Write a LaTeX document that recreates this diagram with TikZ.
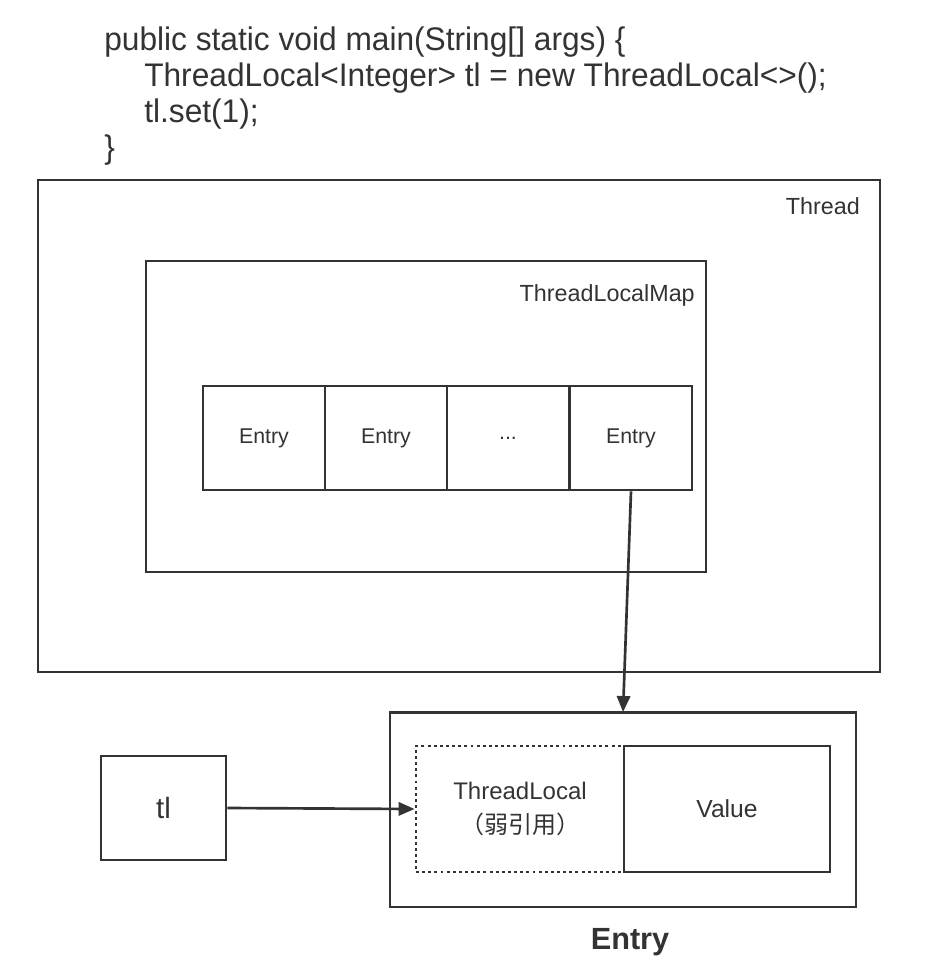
\documentclass[tikz,border=0pt]{standalone}
\usepackage{fontspec}
\setmainfont{Liberation Sans}
\newfontfamily\codefont[FakeStretch=0.97]{Liberation Sans}
\newfontfamily\cjk{Noto Sans CJK SC}
\usetikzlibrary{arrows.meta}
\definecolor{ink}{HTML}{333333}
\begin{document}
\begin{tikzpicture}[x=0.75pt,y=-0.75pt,
  box/.style={draw=ink,line width=2pt},
  cell/.style={draw=ink,line width=2pt,minimum width=91.5pt,minimum height=78pt,inner sep=0pt,font=\fontsize{16}{18}\selectfont,text=ink},
  lbl/.style={text=ink,inner sep=0pt},
  code/.style={text=ink,inner sep=0pt,anchor=west,font=\codefont\fontsize{24.5}{27}\selectfont},
  conn/.style={draw=ink,line width=2pt,-{Triangle[length=12pt,width=10pt]}}]
\useasboundingbox (0,0) rectangle (924,966);
% code
\node[code] (c1) at (104,42) {public static void main(String[] args) \{};
\node[code] (c2) at (144,78) {ThreadLocal<Integer> tl = new ThreadLocal<>();};
\node[code] (c3) at (144,114) {tl.set(1);};
\node[code] (c4) at (104,150) {\}};
% thread
\draw[box] (38,180) rectangle (880,672);
\node[lbl,anchor=east,font=\fontsize{17.5}{19}\selectfont] (thr) at (860,206) {Thread};
\draw[box] (146,261) rectangle (706,572);
\node[lbl,anchor=east,font=\fontsize{17.5}{19}\selectfont] (tlm) at (695,295) {ThreadLocalMap};
% entries
\node[cell] (e1) at (264,438) {Entry};
\node[cell] (e2) at (386,438) {Entry};
\node[cell] (e3) at (508,438) {...};
\node[cell] (e4) at (631,438) {Entry};
% bottom entry
\node[box,minimum width=349.5pt,minimum height=146pt,inner sep=0pt] (ent) at (623,809.5) {};
\node[draw=ink,line width=2.2pt,dash pattern=on 2.2pt off 2.4pt,minimum width=156pt,minimum height=94.5pt,inner sep=0pt,align=center,text=ink,font=\fontsize{18}{25}\selectfont] (wk) at (520,809) {ThreadLocal\\{\cjk （弱引用）}};
\node[box,minimum width=154.5pt,minimum height=94.5pt,inner sep=0pt,text=ink,font=\fontsize{18.5}{20}\selectfont] (val) at (727,809) {Value};
\node[lbl,font=\bfseries\fontsize{23}{25}\selectfont] (entl) at (630,942) {Entry};
% tl
\node[box,minimum width=93.75pt,minimum height=78pt,inner sep=0pt,text=ink,font=\fontsize{22}{24}\selectfont] (tl) at (163.5,808) {tl};
% connectors
\draw[conn] (e4.south) -- (623,712);
\draw[conn] (tl.east) -- (wk.west);
\end{tikzpicture}
\end{document}
